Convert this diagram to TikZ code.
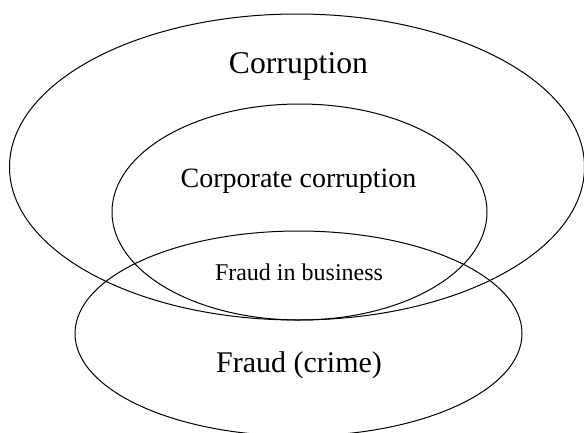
\documentclass[tikz,border=0pt]{standalone}
\usepackage{fontspec}
\setmainfont{Liberation Serif}
\begin{document}
\begin{tikzpicture}[x=1pt,y=-1pt,
  ring/.style={draw=black,line width=1pt},
  lbl/.style={inner sep=0pt,anchor=base,text=black}]
\useasboundingbox (0,0) rectangle (584,432);
\fill[white] (0,0) rectangle (584,432);
\draw[ring] (297,167) ellipse [x radius=287.5pt, y radius=153pt];
\draw[ring] (299.5,212) ellipse [x radius=187.5pt, y radius=108pt];
\draw[ring] (298.5,333.5) ellipse [x radius=223.5pt, y radius=102.5pt];
\node[lbl,font=\fontsize{31.7}{38}\selectfont] (corr) at (298.5,73) {Corruption};
\node[lbl,font=\fontsize{28}{34}\selectfont] (corp) at (298.5,187) {Corporate corruption};
\node[lbl,font=\fontsize{24}{29}\selectfont] (fib) at (299,280) {Fraud in business};
\node[lbl,font=\fontsize{30}{36}\selectfont] (fc) at (299,372) {Fraud (crime)};
\end{tikzpicture}
\end{document}
